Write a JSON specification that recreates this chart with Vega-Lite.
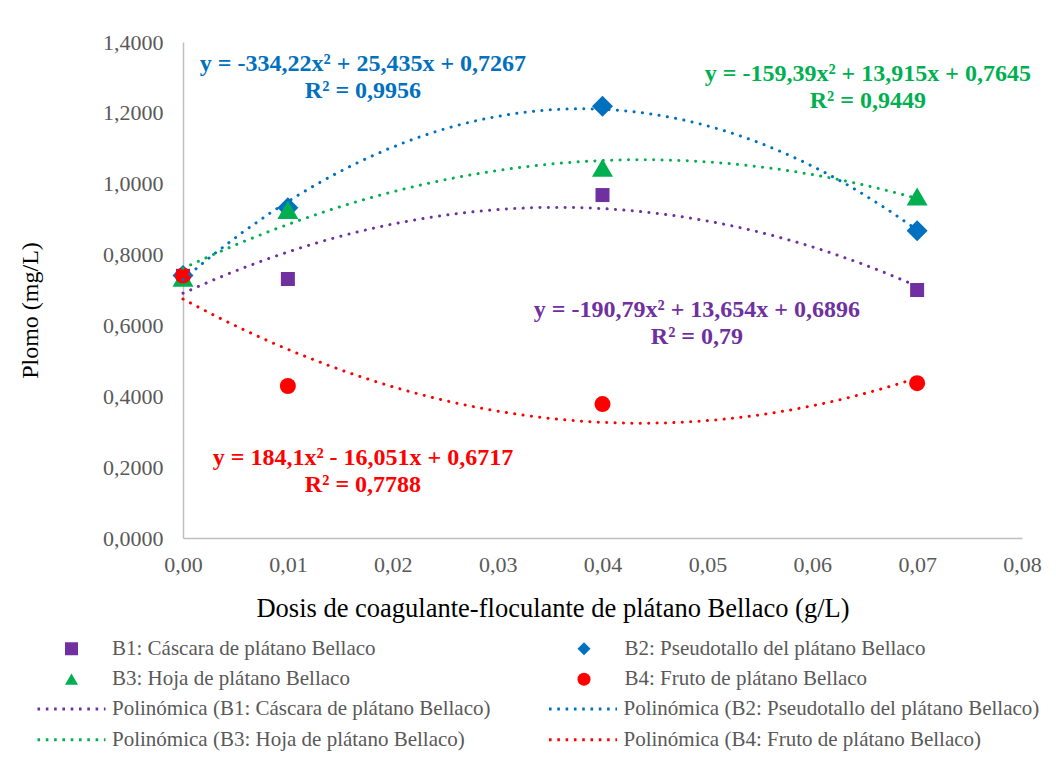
{
  "$schema": "https://vega.github.io/schema/vega-lite/v6.json",
  "width": 839,
  "height": 496,
  "autosize": "none",
  "padding": {"left": 183, "top": 42, "right": 34, "bottom": 224},
  "background": "white",
  "config": {
    "locale": {"number": {"decimal": ",", "thousands": ".", "grouping": [3], "currency": ["", " €"]}},
    "view": {"stroke": null},
    "font": "Liberation Serif",
    "style": {"guide-label": {"font": "Liberation Serif"}, "guide-title": {"font": "Liberation Serif"}},
    "axis": {
      "grid": false, "ticks": false, "tickSize": 0, "labelFlush": false,
      "domainColor": "#BFBFBF", "domainWidth": 1.5,
      "labelFont": "Liberation Serif", "labelFontSize": 22, "labelColor": "#595959",
      "titleFont": "Liberation Serif", "titleFontWeight": "normal", "titleColor": "#000000", "titleFontSize": 24
    }
  },
  "datasets": {
    "medidas": [
      {"serie": "B1: Cáscara de plátano Bellaco", "tendencia": "Polinómica (B1: Cáscara de plátano Bellaco)", "dosis": 0.00, "plomo": 0.740},
      {"serie": "B1: Cáscara de plátano Bellaco", "tendencia": "Polinómica (B1: Cáscara de plátano Bellaco)", "dosis": 0.01, "plomo": 0.731},
      {"serie": "B1: Cáscara de plátano Bellaco", "tendencia": "Polinómica (B1: Cáscara de plátano Bellaco)", "dosis": 0.04, "plomo": 0.968},
      {"serie": "B1: Cáscara de plátano Bellaco", "tendencia": "Polinómica (B1: Cáscara de plátano Bellaco)", "dosis": 0.07, "plomo": 0.700},
      {"serie": "B2: Pseudotallo del plátano Bellaco", "tendencia": "Polinómica (B2: Pseudotallo del plátano Bellaco)", "dosis": 0.00, "plomo": 0.741},
      {"serie": "B2: Pseudotallo del plátano Bellaco", "tendencia": "Polinómica (B2: Pseudotallo del plátano Bellaco)", "dosis": 0.01, "plomo": 0.932},
      {"serie": "B2: Pseudotallo del plátano Bellaco", "tendencia": "Polinómica (B2: Pseudotallo del plátano Bellaco)", "dosis": 0.04, "plomo": 1.219},
      {"serie": "B2: Pseudotallo del plátano Bellaco", "tendencia": "Polinómica (B2: Pseudotallo del plátano Bellaco)", "dosis": 0.07, "plomo": 0.867},
      {"serie": "B3: Hoja de plátano Bellaco", "tendencia": "Polinómica (B3: Hoja de plátano Bellaco)", "dosis": 0.00, "plomo": 0.735},
      {"serie": "B3: Hoja de plátano Bellaco", "tendencia": "Polinómica (B3: Hoja de plátano Bellaco)", "dosis": 0.01, "plomo": 0.926},
      {"serie": "B3: Hoja de plátano Bellaco", "tendencia": "Polinómica (B3: Hoja de plátano Bellaco)", "dosis": 0.04, "plomo": 1.045},
      {"serie": "B3: Hoja de plátano Bellaco", "tendencia": "Polinómica (B3: Hoja de plátano Bellaco)", "dosis": 0.07, "plomo": 0.964},
      {"serie": "B4: Fruto de plátano Bellaco", "tendencia": "Polinómica (B4: Fruto de plátano Bellaco)", "dosis": 0.00, "plomo": 0.741},
      {"serie": "B4: Fruto de plátano Bellaco", "tendencia": "Polinómica (B4: Fruto de plátano Bellaco)", "dosis": 0.01, "plomo": 0.429},
      {"serie": "B4: Fruto de plátano Bellaco", "tendencia": "Polinómica (B4: Fruto de plátano Bellaco)", "dosis": 0.04, "plomo": 0.378},
      {"serie": "B4: Fruto de plátano Bellaco", "tendencia": "Polinómica (B4: Fruto de plátano Bellaco)", "dosis": 0.07, "plomo": 0.437}
    ],
    "notas": [
      {"serie": "B2: Pseudotallo del plátano Bellaco", "dosis": 0.01716, "plomo": 1.337, "texto": "y = -334,22x² + 25,435x + 0,7267\nR² = 0,9956"},
      {"serie": "B3: Hoja de plátano Bellaco", "dosis": 0.0653, "plomo": 1.309, "texto": "y = -159,39x² + 13,915x + 0,7645\nR² = 0,9449"},
      {"serie": "B1: Cáscara de plátano Bellaco", "dosis": 0.0490, "plomo": 0.643, "texto": "y = -190,79x² + 13,654x + 0,6896\nR² = 0,79"},
      {"serie": "B4: Fruto de plátano Bellaco", "dosis": 0.01716, "plomo": 0.225, "texto": "y = 184,1x² - 16,051x + 0,6717\nR² = 0,7788"}
    ]
  },
  "layer": [
    {
      "data": {"name": "medidas"},
      "transform": [{"filter": {"field": "serie", "oneOf": ["B1: Cáscara de plátano Bellaco"]}}],
      "mark": {"type": "point", "filled": true, "opacity": 1, "size": 196},
      "encoding": {
        "x": {
          "field": "dosis", "type": "quantitative",
          "scale": {"domain": [0, 0.08], "nice": false, "zero": false},
          "axis": {"values": [0, 0.01, 0.02, 0.03, 0.04, 0.05, 0.06, 0.07, 0.08], "format": ".2f", "labelPadding": 16, "titlePadding": 20,
                   "labelFont": "Liberation Serif", "titleFontSize": 26.5, "titleX": 369.5, "titleAnchor": "start", "titleAlign": "center",
                   "title": "Dosis de coagulante-floculante de plátano Bellaco (g/L)"}
        },
        "y": {
          "field": "plomo", "type": "quantitative",
          "scale": {"domain": [0, 1.4], "nice": false},
          "axis": {"values": [0, 0.2, 0.4, 0.6, 0.8, 1.0, 1.2, 1.4], "format": ".4f", "labelPadding": 20, "titlePadding": 60,
                   "labelFont": "Liberation Serif", "titleY": 268, "titleAnchor": "start", "titleAlign": "center", "title": "Plomo (mg/L)"}
        },
        "color": {
          "field": "serie", "type": "nominal",
          "scale": {
            "domain": ["B1: Cáscara de plátano Bellaco", "B2: Pseudotallo del plátano Bellaco", "B3: Hoja de plátano Bellaco", "B4: Fruto de plátano Bellaco"],
            "range": ["#7030A0", "#0070C0", "#00B050", "#FF0000"]
          },
          "legend": {
            "title": null, "orient": "none", "legendX": -122, "legendY": 596, "direction": "horizontal",
            "columns": 2, "columnPadding": 197.5, "rowPadding": 8.7, "symbolSize": 169,
            "labelFont": "Liberation Serif", "labelFontSize": 21, "labelColor": "#595959",
            "labelOffset": 30, "labelLimit": 0, "padding": 0
          }
        },
        "shape": {
          "field": "serie", "type": "nominal",
          "scale": {
            "domain": ["B1: Cáscara de plátano Bellaco", "B2: Pseudotallo del plátano Bellaco", "B3: Hoja de plátano Bellaco", "B4: Fruto de plátano Bellaco"],
            "range": ["square", "diamond", "triangle-up", "circle"]
          }
        }
      }
    },
    {
      "data": {"name": "medidas"},
      "transform": [{"filter": {"field": "serie", "oneOf": ["B2: Pseudotallo del plátano Bellaco", "B3: Hoja de plátano Bellaco"]}}],
      "mark": {"type": "point", "filled": true, "opacity": 1, "size": 441},
      "encoding": {
        "x": {"field": "dosis", "type": "quantitative"},
        "y": {"field": "plomo", "type": "quantitative"},
        "color": {"field": "serie", "type": "nominal"},
        "shape": {"field": "serie", "type": "nominal"}
      }
    },
    {
      "data": {"name": "medidas"},
      "transform": [{"filter": {"field": "serie", "oneOf": ["B4: Fruto de plátano Bellaco"]}}],
      "mark": {"type": "point", "filled": true, "opacity": 1, "size": 256},
      "encoding": {
        "x": {"field": "dosis", "type": "quantitative"},
        "y": {"field": "plomo", "type": "quantitative"},
        "color": {"field": "serie", "type": "nominal"},
        "shape": {"field": "serie", "type": "nominal"}
      }
    },
    {
      "data": {"name": "medidas"},
      "transform": [
        {"regression": "plomo", "on": "dosis", "method": "poly", "order": 2, "extent": [0, 0.07], "groupby": ["serie", "tendencia"]}
      ],
      "mark": {"type": "line", "strokeWidth": 3, "strokeDash": [0.1, 8.3], "strokeCap": "round"},
      "encoding": {
        "x": {"field": "dosis", "type": "quantitative"},
        "y": {"field": "plomo", "type": "quantitative"},
        "stroke": {
          "field": "tendencia", "type": "nominal",
          "scale": {
            "domain": ["Polinómica (B1: Cáscara de plátano Bellaco)", "Polinómica (B2: Pseudotallo del plátano Bellaco)",
                       "Polinómica (B3: Hoja de plátano Bellaco)", "Polinómica (B4: Fruto de plátano Bellaco)"],
            "range": ["#7030A0", "#0070C0", "#00B050", "#FF0000"]
          },
          "legend": {
            "title": null, "orient": "none", "legendX": -147, "legendY": 656.5, "direction": "horizontal",
            "columns": 2, "columnPadding": 56.5, "rowPadding": 8.7, "clipHeight": 21,
            "symbolType": "stroke", "symbolSize": 4624, "symbolStrokeWidth": 3, "symbolDash": [2.6, 5.7],
            "labelFont": "Liberation Serif", "labelFontSize": 21, "labelColor": "#595959",
            "labelOffset": 5, "labelLimit": 0, "padding": 0
          }
        }
      }
    },
    {
      "data": {"name": "notas"},
      "mark": {"type": "text", "fontWeight": "bold", "fontSize": 24, "lineHeight": 27, "lineBreak": "\n", "align": "center", "baseline": "middle", "font": "Liberation Serif"},
      "encoding": {
        "x": {"field": "dosis", "type": "quantitative"},
        "y": {"field": "plomo", "type": "quantitative"},
        "color": {"field": "serie", "type": "nominal"},
        "text": {"field": "texto", "type": "nominal"}
      }
    }
  ]
}
